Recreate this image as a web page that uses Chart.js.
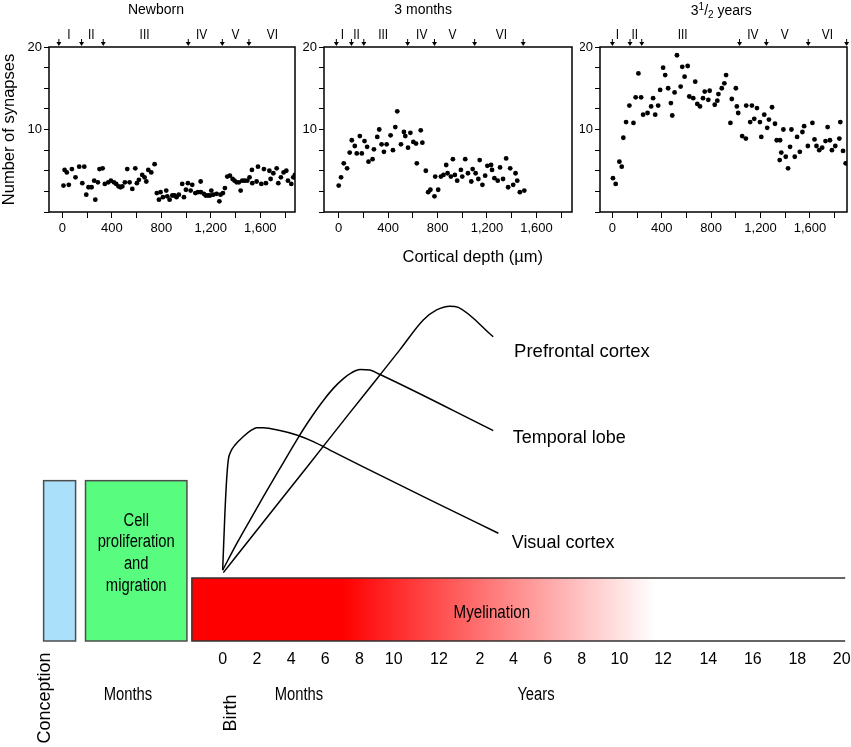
<!DOCTYPE html>
<html>
<head>
<meta charset="utf-8">
<script src="https://cdn.jsdelivr.net/npm/chart.js@4.4.1/dist/chart.umd.min.js"></script>
<style>
  html, body { margin: 0; padding: 0; background: #fff; }
  #wrap { position: relative; width: 851px; height: 747px; overflow: hidden; background: #fff; }
  canvas { position: absolute; }
</style>
</head>
<body>
<div id="wrap">
  <canvas id="dev" width="851" height="492" style="left:0;top:255px"></canvas>
  <canvas id="p1" width="300" height="270" style="left:0;top:0"></canvas>
  <canvas id="p2" width="280" height="270" style="left:300px;top:0"></canvas>
  <canvas id="p3" width="271" height="270" style="left:580px;top:0"></canvas>
</div>
<script>
const SANS = "'Liberation Sans', Arial, sans-serif";

/* -------------------- SYNAPSE COUNTS (top panels) -------------------- */
const newbornDepth = [10,19,37,53,78,107,137,162,178,194,212,237,258,267,288,301,326,344,372,393,
  417,436,455,471,485,506,525,544,566,590,603,619,646,665,679,695,719,746,764,781,
  794,813,840,848,867,889,907,923,942,969,983,999,1015,1037,1050,1075,1096,1118,1120,1144,
  1158,1177,1193,1204,1220,1247,1269,1279,1298,1314,1333,1354,1376,1392,1408,1427,1441,1454,1473,1495,
  1513,1532,1535,1570,1581,1608,1629,1645,1673,1683,1705,1732,1745,1766,1788,1810,1823,1850,1866,1879];
const newbornCount = [3.2,5.1,4.8,3.3,5.2,4.2,5.5,3.5,5.5,2.1,3.0,3.0,3.8,1.5,3.6,5.2,5.3,3.4,3.6,3.8,
  3.6,3.4,3.1,3.0,3.1,3.6,5.2,3.6,2.8,5.3,3.5,3.9,4.5,4.2,3.7,5.1,4.8,5.8,2.3,1.5,
  2.4,1.8,2.6,1.9,1.5,2.0,2.0,1.8,2.1,3.4,1.8,2.7,3.5,2.6,3.3,2.3,2.4,3.7,2.4,2.2,
  2.0,2.0,2.0,2.6,2.1,2.2,1.3,2.1,2.3,2.9,4.3,4.4,4.0,3.8,3.6,3.6,2.6,3.8,3.8,3.8,
  4.2,5.1,3.5,3.7,5.5,3.4,5.2,3.5,5.0,4.0,4.7,5.3,3.5,4.2,4.8,5.0,3.8,3.4,4.2,4.5];

const monthsDepth = [0,19,41,68,89,106,130,146,171,187,209,230,241,274,285,312,328,347,366,388,
  420,439,458,474,504,528,539,561,580,604,626,632,664,677,705,724,742,775,781,805,
  827,848,870,881,908,924,940,959,989,1000,1024,1046,1073,1084,1108,1130,1141,1163,1185,1203,
  1233,1241,1260,1287,1306,1330,1355,1371,1388,1412,1431,1445,1466,1502];
const monthsCount = [3.2,4.2,5.9,5.3,7.2,8.7,8.0,7.1,9.2,7.1,8.6,7.9,6.1,6.4,7.6,9.1,10.0,8.2,7.3,8.2,
  9.3,7.5,10.3,12.2,8.2,9.7,9.2,7.8,9.6,8.5,8.3,5.9,9.9,8.4,5.0,2.4,2.7,1.9,4.3,2.7,
  4.3,4.5,5.7,4.7,4.3,6.4,4.5,3.8,5.1,4.3,6.4,4.7,3.7,5.2,4.7,4.0,6.3,3.3,4.4,5.6,
  5.7,5.1,4.1,3.8,5.4,4.0,6.5,3.0,5.3,3.3,4.7,3.8,2.4,2.6];

const yearsDepth = [5,27,57,76,89,111,138,171,189,211,233,249,285,314,330,347,371,387,411,428,
  452,474,485,504,523,553,566,585,610,623,655,671,688,710,734,748,777,788,829,850,
  859,886,907,921,956,967,1000,1008,1019,1051,1081,1084,1116,1130,1149,1171,1195,1206,1230,1254,
  1268,1293,1317,1331,1355,1358,1368,1385,1404,1423,1439,1450,1477,1496,1518,1539,1553,1583,1620,1637,
  1653,1675,1699,1726,1743,1762,1778,1805,1838,1846,1868,1889];
const yearsCount = [4.1,3.4,6.1,5.5,9.0,10.9,12.9,10.8,13.9,16.8,13.9,11.8,12.0,12.8,13.8,11.8,12.9,14.8,17.5,16.6,
  15.0,13.2,11.7,14.5,19.0,15.2,17.6,16.4,17.7,14.0,13.8,15.8,13.1,12.8,13.8,14.6,13.6,14.7,13.0,13.5,
  14.3,15.0,15.6,16.6,10.8,13.7,15.0,12.8,12.0,9.2,8.9,12.9,10.9,12.9,11.3,12.6,10.9,9.1,11.8,10.2,
  11.2,12.7,10.7,8.7,6.3,8.7,7.2,10.0,6.7,5.3,7.9,10.0,6.7,9.1,7.3,9.7,10.4,8.0,10.8,8.8,
  8.0,7.5,7.8,8.6,10.3,8.7,7.5,8.0,8.9,10.9,7.4,5.9];

// cortical layer borders (arrows) and layer name positions, in µm
const LAYER_NAMES = ["I", "II", "III", "IV", "V", "VI"];
const newbornBounds = [-27, 156, 331, 1018, 1293, 1508];
const newbornLayers = [53, 234, 665, 1126, 1400, 1697];
const monthsBounds = [-19, 103, 203, 558, 775, 1100, 1493];
const monthsLayers = [30, 144, 360, 672, 921, 1317];
const yearsBounds = [0, 143, 238, 1030, 1247, 1586, 1897];
const yearsLayers = [41, 181, 569, 1138, 1395, 1742];

const DEPTH_TICKS = [0, 200, 400, 600, 800, 1000, 1200, 1400, 1600, 1800];
const SYNAPSE_TICKS = [0, 2.5, 5, 7.5, 10, 12.5, 15, 17.5, 20];
const SYNAPSE_LABELS = [10, 20];

/* -------------------- DEVELOPMENT TIMELINE (bottom) -------------------- */
const TIMELINE_TICKS = [0, 2, 4, 6, 8, 10, 12.65, 15.05, 17, 19, 21, 23.2, 25.75, 28.4, 31, 33.6, 36.2];
const TIMELINE_LABELS = ["0","2","4","6","8","10","12","2","4","6","8","10","12","14","16","18","20"];

const visualAge = [0, 0.13, 0.23, 0.33, 0.47, 0.72, 1.21, 1.70, 1.99, 2.38, 3.35, 4.33, 5.30, 6.27, 8.22, 12.12, 16.12];
const visualDensity = [2.5, 20.5, 31.1, 37.5, 40.1, 42.2, 44.9, 47.0, 47.7, 47.7, 46.8, 45.4, 43.3, 40.6, 35.3, 24.8, 14.2];
const temporalAge = [0, 0.82, 1.60, 2.38, 3.35, 4.33, 4.91, 5.50, 5.98, 6.47, 7.06, 7.55, 8.03, 8.61, 9.20, 15.82];
const temporalDensity = [2.5, 10.9, 18.4, 25.8, 34.8, 43.8, 48.8, 53.5, 57.0, 60.2, 63.3, 65.2, 66.2, 66.0, 64.6, 46.8];
const prefrontalAge = [0.04, 2.37, 4.91, 7.44, 9.01, 10.37, 11.73, 12.51, 13.29, 13.78, 15.82];
const prefrontalDensity = [1.7, 17.7, 35.1, 52.5, 63.2, 72.5, 81.9, 85.1, 86.3, 85.9, 76.6];

// prenatal boxes (conception, proliferation/migration) and myelination bar
const prenatalStart = [-10.47, -8.02];
const prenatalEnd = [-8.6, -2.09];
const prenatalTop = 30.9;
const barBottom = -20;
const myelinSpan = [-1.8, 36.4];
const myelinFade = [7, 25.3];

/* -------------------- HELPERS -------------------- */
// condensed text (no narrow face installed): squeeze horizontally
function narrowText(ctx, text, x, y, sx) {
  ctx.save();
  ctx.translate(x, y);
  ctx.scale(sx, 1);
  ctx.fillText(text, 0, 0);
  ctx.restore();
}

function drawTitle(ctx, parts, cx, cy) {
  const big = `14px ${SANS}`, small = `10px ${SANS}`;
  let w = 0;
  parts.forEach(p => { ctx.font = p.shift ? small : big; w += ctx.measureText(p.text).width; });
  let px = cx - w / 2;
  ctx.textAlign = "left";
  ctx.textBaseline = "middle";
  parts.forEach(p => {
    ctx.font = p.shift ? small : big;
    ctx.fillText(p.text, px, cy + (p.shift || 0));
    px += ctx.measureText(p.text).width;
  });
}

/* -------------------- TOP PANELS -------------------- */
function panelDecor(cfg) {
  return {
    id: "panelDecor",
    afterDraw(chart) {
      const { ctx, chartArea: a, scales: { x } } = chart;
      ctx.save();
      ctx.strokeStyle = "#000";
      ctx.lineWidth = 1.5;
      ctx.strokeRect(a.left, a.top, a.right - a.left, a.bottom - a.top);

      // layer borders
      ctx.fillStyle = "#000";
      ctx.lineWidth = 1;
      cfg.bounds.forEach(b => {
        const px = x.getPixelForValue(b);
        ctx.beginPath();
        ctx.moveTo(px, a.top - 8);
        ctx.lineTo(px, a.top - 4);
        ctx.stroke();
        ctx.beginPath();
        ctx.moveTo(px - 2.5, a.top - 5);
        ctx.lineTo(px + 2.5, a.top - 5);
        ctx.lineTo(px, a.top - 1);
        ctx.closePath();
        ctx.fill();
      });
      ctx.font = `14px ${SANS}`;
      ctx.textAlign = "center";
      ctx.textBaseline = "middle";
      cfg.layers.forEach((m, i) => narrowText(ctx, LAYER_NAMES[i], x.getPixelForValue(m), 35, 0.85));

      drawTitle(ctx, cfg.title, x.getPixelForValue(cfg.titleAt), cfg.titleY);

      if (cfg.axisTitle) {
        ctx.font = `16.5px ${SANS}`;
        ctx.textAlign = "center";
        ctx.fillText(cfg.axisTitle, x.getPixelForValue(cfg.axisTitleAt), 257);
      }
      ctx.restore();
    }
  };
}

function makePanel(id, cfg) {
  const pts = cfg.depth.map((d, i) => ({ x: d, y: cfg.count[i] }));
  const tickGrid = { display: true, drawOnChartArea: false, drawTicks: true, color: "#000", lineWidth: 1 };
  return new Chart(document.getElementById(id), {
    type: "scatter",
    data: { datasets: [{ data: pts, backgroundColor: "#000", borderColor: "#000", pointRadius: 2.4, borderWidth: 0 }] },
    options: {
      responsive: false,
      animation: false,
      devicePixelRatio: 1,
      layout: { autoPadding: false, padding: { left: 0, top: 47, right: cfg.padRight, bottom: 0 } },
      plugins: { legend: { display: false }, tooltip: { enabled: false } },
      scales: {
        x: {
          type: "linear", min: cfg.xMin, max: cfg.xMax,
          afterBuildTicks: s => { s.ticks = DEPTH_TICKS.map(v => ({ value: v })); },
          afterFit: s => { s.height = 58; s.paddingLeft = 0; s.paddingRight = 0; },
          grid: { ...tickGrid, tickLength: 6 },
          border: { display: false },
          ticks: {
            padding: 3, color: "#000", autoSkip: false, maxRotation: 0,
            font: { family: SANS, size: 13 },
            callback: v => (v % 400 === 0 ? v.toLocaleString("en-US") : "")
          }
        },
        y: {
          type: "linear", min: 0, max: 20,
          afterBuildTicks: s => { s.ticks = SYNAPSE_TICKS.map(v => ({ value: v })); },
          afterFit: s => { s.width = cfg.yWidth; s.paddingTop = 0; s.paddingBottom = 0; },
          grid: { ...tickGrid, tickLength: 5 },
          border: { display: false },
          ticks: {
            padding: 2, color: "#000", autoSkip: false,
            font: { family: SANS, size: 13 },
            callback: v => (SYNAPSE_LABELS.includes(v) ? String(v) : "")
          },
          title: {
            display: !!cfg.yTitle, text: cfg.yTitle || "", color: "#000",
            font: { family: SANS, size: 16.5 }, padding: { top: 0, bottom: 0 }
          }
        }
      }
    },
    plugins: [panelDecor(cfg)]
  });
}

makePanel("p1", {
  depth: newbornDepth, count: newbornCount, xMin: -107, xMax: 1880, padRight: 5, yWidth: 49,
  yTitle: "Number of synapses", bounds: newbornBounds, layers: newbornLayers,
  title: [{ text: "Newborn" }], titleAt: 757, titleY: 10
});
makePanel("p2", {
  depth: monthsDepth, count: monthsCount, xMin: -119, xMax: 1888, padRight: 8, yWidth: 24,
  bounds: monthsBounds, layers: monthsLayers,
  title: [{ text: "3 months" }], titleAt: 683, titleY: 10,
  axisTitle: "Cortical depth (\u00b5m)", axisTitleAt: 1085
});
makePanel("p3", {
  depth: yearsDepth, count: yearsCount, xMin: -100, xMax: 1900, padRight: 4, yWidth: 20,
  bounds: yearsBounds, layers: yearsLayers,
  title: [{ text: "3" }, { text: "1", shift: -4 }, { text: "/" }, { text: "2", shift: 4 }, { text: " years" }],
  titleAt: 882, titleY: 11
});

/* -------------------- DEVELOPMENT CHART -------------------- */
const devDecor = {
  id: "devDecor",
  beforeDatasetsDraw(chart) {
    const { ctx, scales: { x, y } } = chart;
    const X = v => x.getPixelForValue(v), Y = v => y.getPixelForValue(v);
    ctx.save();

    // prenatal boxes
    const boxFill = ["#abe0fb", "#58fd80"];
    prenatalStart.forEach((s, i) => {
      const l = X(s), r = X(prenatalEnd[i]), t = Y(prenatalTop), b = Y(barBottom);
      ctx.fillStyle = boxFill[i];
      ctx.fillRect(l, t, r - l, b - t);
      ctx.strokeStyle = "#4d4d4d";
      ctx.lineWidth = 1.5;
      ctx.strokeRect(l, t, r - l, b - t);
    });
    ctx.fillStyle = "#000";
    ctx.font = `18px ${SANS}`;
    ctx.textAlign = "center";
    ctx.textBaseline = "middle";
    const gx = (X(prenatalStart[1]) + X(prenatalEnd[1])) / 2;
    ["Cell", "proliferation", "and", "migration"].forEach((t, i) => {
      narrowText(ctx, t, gx, Y(prenatalTop) + 40 + i * 21.8, 0.82);
    });

    // myelination bar
    const l = X(myelinSpan[0]), r = X(myelinSpan[1]), t = Y(0), b = Y(barBottom);
    const grad = ctx.createLinearGradient(X(myelinFade[0]), 0, X(myelinFade[1]), 0);
    grad.addColorStop(0, "#ff0000");
    grad.addColorStop(1, "#ffffff");
    ctx.fillStyle = grad;
    ctx.fillRect(l, t, r - l, b - t);
    ctx.strokeStyle = "#333";
    ctx.lineWidth = 1.5;
    ctx.beginPath();
    ctx.moveTo(r, t); ctx.lineTo(l, t); ctx.lineTo(l, b); ctx.lineTo(r, b);
    ctx.stroke();
    ctx.fillStyle = "#000";
    narrowText(ctx, "Myelination", X(15.74), Y(-11), 0.84);
    ctx.restore();
  },
  afterDraw(chart) {
    const { ctx, chartArea: a, scales: { x, y } } = chart;
    const X = v => x.getPixelForValue(v), Y = v => y.getPixelForValue(v);
    ctx.save();
    ctx.fillStyle = "#000";

    // region labels
    ctx.font = `18.5px ${SANS}`;
    ctx.textAlign = "left";
    ctx.textBaseline = "middle";
    ctx.fillText("Prefrontal cortex", X(17.04), Y(71.8));
    ctx.font = `18px ${SANS}`;
    ctx.fillText("Temporal lobe", X(16.96), Y(44.3));
    ctx.fillText("Visual cortex", X(16.9), Y(11.0));

    // time-span labels under the axis
    ctx.font = `18px ${SANS}`;
    ctx.textAlign = "center";
    narrowText(ctx, "Months", X(-5.54), a.bottom + 54, 0.82);
    narrowText(ctx, "Months", X(4.46), a.bottom + 54, 0.82);
    narrowText(ctx, "Years", X(18.32), a.bottom + 54, 0.82);

    [["Conception", -10.39, 57], ["Birth", 0.46, 72]].forEach(([t, at, dy]) => {
      ctx.save();
      ctx.translate(X(at), a.bottom + dy);
      ctx.rotate(-Math.PI / 2);
      ctx.fillText(t, 0, 0);
      ctx.restore();
    });
    ctx.restore();
  }
};

const curve = (ages, dens) => ({
  data: ages.map((v, i) => ({ x: v, y: dens[i] })),
  borderColor: "#000", borderWidth: 1.5, pointRadius: 0, fill: false,
  cubicInterpolationMode: "monotone"
});

new Chart(document.getElementById("dev"), {
  type: "line",
  data: {
    datasets: [
      curve(visualAge, visualDensity),
      curve(temporalAge, temporalDensity),
      curve(prefrontalAge, prefrontalDensity)
    ]
  },
  options: {
    responsive: false,
    animation: false,
    devicePixelRatio: 1,
    layout: { autoPadding: false, padding: { left: 0, right: 0, top: 8, bottom: 0 } },
    plugins: { legend: { display: false }, tooltip: { enabled: false } },
    scales: {
      x: {
        type: "linear", min: -13.02, max: 36.74,
        afterBuildTicks: s => { s.ticks = TIMELINE_TICKS.map(v => ({ value: v })); },
        afterFit: s => { s.height = 106; s.paddingLeft = 0; s.paddingRight = 0; },
        grid: { display: false, drawTicks: false },
        border: { display: false },
        ticks: {
          padding: 9, color: "#000", autoSkip: false, maxRotation: 0,
          font: { family: SANS, size: 16 },
          callback: (v, i) => TIMELINE_LABELS[i]
        }
      },
      y: { type: "linear", min: -20, max: 100, display: false }
    }
  },
  plugins: [devDecor]
});
</script>
</body>
</html>
